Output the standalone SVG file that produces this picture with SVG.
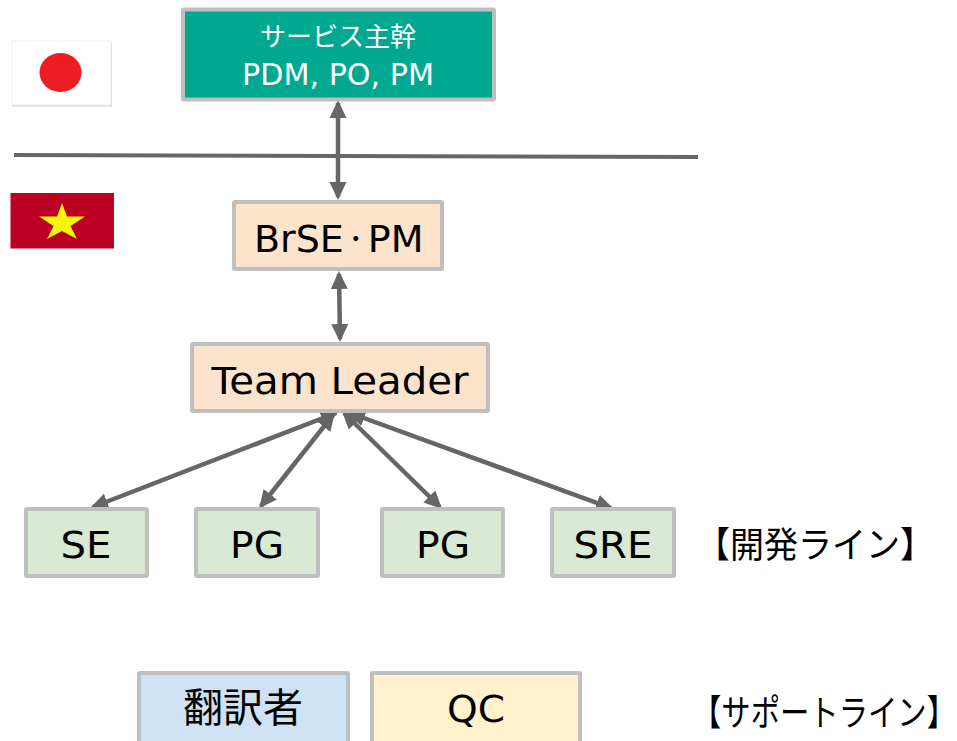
<svg xmlns="http://www.w3.org/2000/svg" width="957" height="741" viewBox="0 0 957 741">
<style>
.box{stroke:#bfbfbf;stroke-width:4}
.t{font-family:"DejaVu Sans","Noto Sans CJK JP",sans-serif;text-anchor:middle;fill:#000}
.c{stroke:#666;stroke-width:4.500;fill:none;marker-start:url(#a);marker-end:url(#a)}
</style>
<defs>
<marker id="a" markerUnits="userSpaceOnUse" markerWidth="20" markerHeight="20" refX="15" refY="10" orient="auto-start-reverse"><path d="M0 1.500L18 10L0 18.500Z" fill="#666"/></marker>
</defs>
<rect width="957" height="741" fill="#fff"/>
<g id="flag-jp"><rect x="12" y="42" width="100" height="64.500" fill="#d4d4d4"/><rect x="12" y="41" width="99" height="64" fill="#fff" stroke="#f0f0f0"/><ellipse cx="60.500" cy="72.500" rx="21" ry="19.500" fill="#ee1c25"/></g>
<g id="flag-vn"><rect x="10.500" y="193" width="103.500" height="55.500" fill="#bc0024"/><polygon points="62,203 67,216.500 85,216.500 70.500,226 77,239 62,231 47,239 53.500,226 39,216.500 57,216.500" fill="#f7f700"/></g>
<line id="divider" x1="14" y1="155" x2="698" y2="157" stroke="#666" stroke-width="4"/>
<g id="connectors">
<line class="c" x1="338" y1="103" x2="338" y2="197"/>
<line class="c" x1="339" y1="274" x2="340" y2="339"/>
<line class="c" x1="336" y1="413" x2="93" y2="507"/>
<line class="c" x1="333" y1="415" x2="261" y2="506"/>
<line class="c" x1="344" y1="413" x2="440" y2="507"/>
<line class="c" x1="350" y1="413" x2="611" y2="508"/>
</g>
<g id="node-service"><rect class="box" x="183" y="9.500" width="311" height="90" rx="1" fill="#00a88f"/><text class="t" x="338" y="46" font-size="26" textLength="156" lengthAdjust="spacingAndGlyphs" style="fill:#fff">サービス主幹</text><text class="t" x="338" y="85" font-size="30" textLength="192" lengthAdjust="spacingAndGlyphs" style="fill:#fff">PDM, PO, PM</text></g>
<g id="node-brse"><rect class="box" x="234" y="202" width="208" height="67" rx="1" fill="#fce4cc"/><text class="t" x="254" y="252" font-size="38" style="text-anchor:start">BrSE<tspan font-size="24" dy="-5">・</tspan><tspan dy="5">PM</tspan></text></g>
<g id="node-leader"><rect class="box" x="192" y="344" width="296" height="67" rx="1" fill="#fce4cc"/><text class="t" x="340" y="394" font-size="38" textLength="257" lengthAdjust="spacingAndGlyphs">Team Leader</text></g>
<g id="node-se"><rect class="box" x="26" y="509" width="121" height="67" rx="1" fill="#d9e9d3"/><text class="t" x="86" y="558" font-size="38" textLength="51" lengthAdjust="spacingAndGlyphs">SE</text></g>
<g id="node-pg1"><rect class="box" x="196" y="509" width="122" height="67" rx="1" fill="#d9e9d3"/><text class="t" x="257" y="558" font-size="38" textLength="54" lengthAdjust="spacingAndGlyphs">PG</text></g>
<g id="node-pg2"><rect class="box" x="382" y="509" width="121" height="67" rx="1" fill="#d9e9d3"/><text class="t" x="443" y="558" font-size="38" textLength="54" lengthAdjust="spacingAndGlyphs">PG</text></g>
<g id="node-sre"><rect class="box" x="552" y="509" width="122" height="67" rx="1" fill="#d9e9d3"/><text class="t" x="613" y="558" font-size="38" textLength="79" lengthAdjust="spacingAndGlyphs">SRE</text></g>
<g id="node-translator"><rect class="box" x="139" y="673" width="209" height="70" rx="1" fill="#cfe2f3"/><text class="t" x="243" y="722" font-size="40" textLength="120" lengthAdjust="spacingAndGlyphs">翻訳者</text></g>
<g id="node-qc"><rect class="box" x="372" y="673" width="208" height="70" rx="1" fill="#fff2cc"/><text class="t" x="476" y="722" font-size="38" textLength="58" lengthAdjust="spacingAndGlyphs">QC</text></g>
<text class="t" x="815" y="558" font-size="36" textLength="238" lengthAdjust="spacingAndGlyphs">【開発ライン】</text>
<text class="t" transform="translate(824 726) scale(.815 1)" font-size="36">【サポートライン】</text>
</svg>
